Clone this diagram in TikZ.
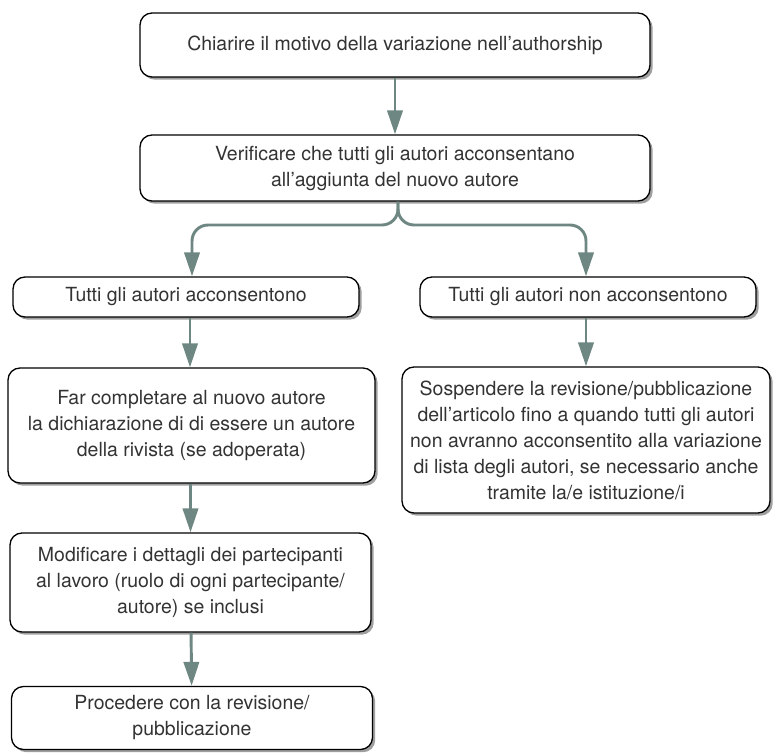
\documentclass[tikz,border=0pt]{standalone}
\usepackage{fontspec}
\setmainfont{TeX Gyre Heros}
\usepackage{xcolor}
\usepackage{tikz}
\usetikzlibrary{positioning,arrows.meta,shadows}
\definecolor{flowgreen}{HTML}{6E8783}
\definecolor{textgray}{HTML}{333333}

\tikzset{
  stepbox/.style={draw=black,line width=1pt,rounded corners=9pt,fill=white,align=center,
    text=textgray,font=\fontsize{14.6}{19.5}\selectfont,inner sep=0pt,
    drop shadow={shadow xshift=2pt,shadow yshift=-2pt,fill=gray!75,opacity=1}},
  flow/.style={draw=flowgreen,line width=2.2pt,-{Triangle[length=18pt,width=11.5pt]}}
}

\begin{document}
\begin{tikzpicture}[x=0.75pt,y=-0.75pt]
    \useasboundingbox (0,0) rectangle (773,752);
    \node[stepbox,minimum width=510pt*0.75,minimum height=64pt*0.75] (chiarire) at (395,45)
      {Chiarire il motivo della variazione nell’authorship};
    \node[stepbox,minimum width=510pt*0.75,minimum height=66pt*0.75] (verificare) at (395,168)
      {Verificare che tutti gli autori acconsentano\\all’aggiunta del nuovo autore};
    \node[stepbox,minimum width=346pt*0.75,minimum height=40pt*0.75] (sicons) at (186,297)
      {Tutti gli autori acconsentono};
    \node[stepbox,minimum width=336pt*0.75,minimum height=40pt*0.75] (nocons) at (588,297)
      {Tutti gli autori non acconsentono};
    \node[stepbox,minimum width=367pt*0.75,minimum height=115pt*0.75] (completare) at (191.5,425.5)
      {Far completare al nuovo autore\\la dichiarazione di di essere un autore\\della rivista (se adoperata)};
    \node[stepbox,minimum width=368pt*0.75,minimum height=146pt*0.75] (sospendere) at (586,440)
      {Sospendere la revisione/pubblicazione\\dell’articolo fino a quando tutti gli autori\\non avranno acconsentito alla variazione\\di lista degli autori, se necessario anche\\tramite la/e istituzione/i};
    \node[stepbox,minimum width=361pt*0.75,minimum height=99pt*0.75] (modificare) at (190.5,582.5)
      {Modificare i dettagli dei partecipanti\\al lavoro (ruolo di ogni partecipante/\\autore) se inclusi};
    \node[stepbox,minimum width=361pt*0.75,minimum height=63pt*0.75] (procedere) at (192,718)
      {Procedere con la revisione/\\pubblicazione};
    \coordinate (split) at (398,225);
    \draw[flow] (chiarire) -- (verificare);
    \draw[flow,rounded corners=12pt] (verificare.south -| split) -- (split) -| (sicons.north -| 192,0);
    \draw[flow,rounded corners=12pt] (verificare.south -| split) -- (split) -| (sospendere.north |- nocons.north);
    \draw[flow] (sicons.south -| 190,0) -- (completare.north -| 190,0);
    \draw[flow] (nocons.south -| sospendere) -- (sospendere);
    \draw[flow] (completare.south -| modificare) -- (modificare);
    \draw[flow] (modificare) -- (procedere);
\end{tikzpicture}
\end{document}
